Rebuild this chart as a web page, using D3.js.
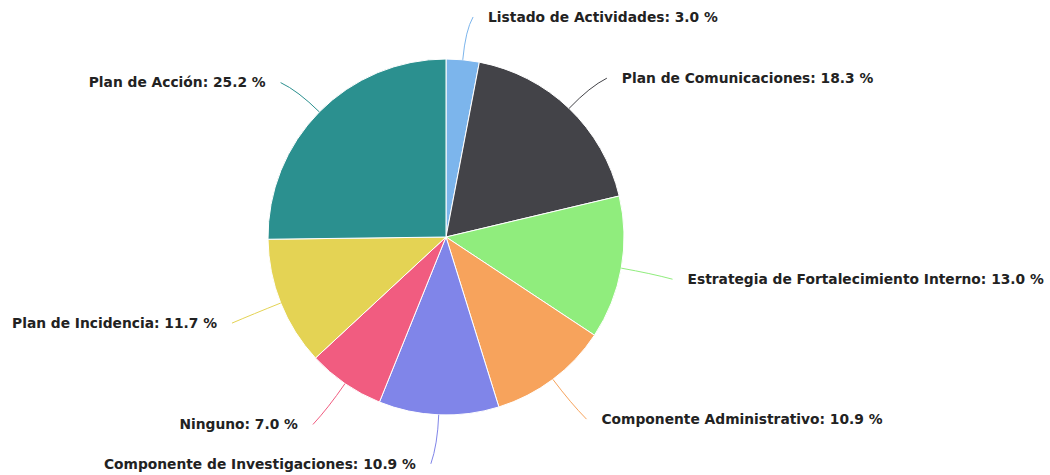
<!DOCTYPE html>
<html>
	<head>
		<meta charset="utf-8">
		<style type="text/css">
			body { margin: 0; background: #fff; }
			text { font-family: "DejaVu Sans", sans-serif; font-weight: bold; font-size: 13.8px; fill: #222; }
			path.connector { fill: none; stroke-width: 1; }
		</style>
		<title>Distribución</title>
	</head>
	<body>
		<script src="https://cdn.jsdelivr.net/npm/d3@7"></script>
		<script>

var categories = ["Listado de Actividades", "Plan de Comunicaciones", "Estrategia de Fortalecimiento Interno",
	"Componente Administrativo", "Componente de Investigaciones", "Ninguno", "Plan de Incidencia", "Plan de Acción"];
var values = [3.0, 18.3, 13.0, 10.9, 10.9, 7.0, 11.7, 25.2];
var colors = ["#7cb5ec", "#434348", "#90ed7d", "#f7a35c", "#8085e9", "#f15c80", "#e4d354", "#2b908f"];

var width = 1050, height = 475;
var cx = 446, cy = 237, r = 178;
var labelR = r + 46;

var svg = d3.select('body').append('svg')
	.attr('width', width)
	.attr('height', height)
  .append('g')
	.attr('transform', `translate(${cx},${cy})`);

var data = categories.map((c, i) => ({name: c, value: values[i], color: colors[i]}));

var pie = d3.pie()
	.sort(null)
	.value(d => d.value);

var arc = d3.arc()
	.innerRadius(0)
	.outerRadius(r);

var arcs = pie(data);

svg.selectAll('path.slice')
	.data(arcs)
  .enter().append('path')
	.attr('class', 'slice')
	.attr('d', arc)
	.attr('fill', d => d.data.color)
	.attr('stroke', '#fff')
	.attr('stroke-width', 1);

// polar point, angle measured clockwise from top
function pt(a, rad) {
	return [rad * Math.sin(a), -rad * Math.cos(a)];
}

arcs.forEach(function(d) {
	let a = (d.startAngle + d.endAngle) / 2;
	let side = Math.sin(a) >= 0 ? 1 : -1;
	let [lx, ly] = pt(a, labelR);
	ly += 3;
	let edge = pt(a, r);
	let ctrl = pt(a, r + 30);
	let end = [lx + side * 6, ly];

	svg.append('path')
		.attr('class', 'connector')
		.attr('stroke', d.data.color)
		.attr('d', `M${edge[0]},${edge[1]} Q${ctrl[0]},${ctrl[1]} ${end[0]},${end[1]}`);

	svg.append('text')
		.attr('x', lx + side * 21)
		.attr('y', ly)
		.attr('dy', '0.35em')
		.attr('text-anchor', side > 0 ? 'start' : 'end')
		.text(`${d.data.name}: ${d3.format('.1f')(d.data.value)} %`);
});

		</script>
	</body>
</html>
